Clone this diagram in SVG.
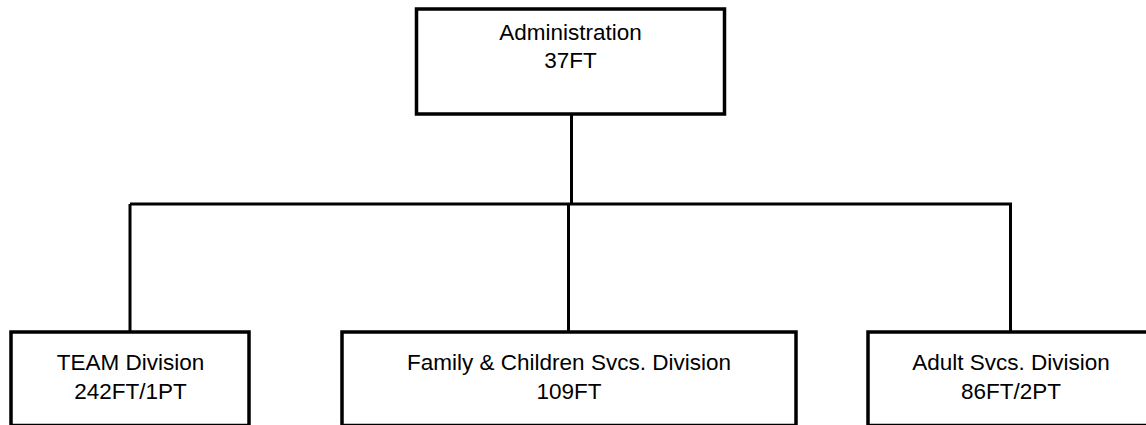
<svg xmlns="http://www.w3.org/2000/svg" width="1146" height="425" viewBox="0 0 1146 425">
<style>
.box{fill:#fff;stroke:#000;stroke-width:3.5}
.con{fill:none;stroke:#000;stroke-width:3}
.t{font-family:"Liberation Sans",Arial,sans-serif;font-size:22.5px;fill:#000;text-anchor:middle}
</style>
<rect width="1146" height="425" fill="#fff"/>
<g id="connectors">
<path class="con" d="M571.5 114V204"/>
<path class="con" d="M130 204H1010.5V332"/>
<path class="con" d="M130 204V332"/>
<path class="con" d="M568.5 204V332"/>
</g>
<g id="admin">
<rect class="box" x="416.5" y="9" width="308" height="105"/>
<text class="t" x="570.5" y="40">Administration</text>
<text class="t" x="570.5" y="68">37FT</text>
</g>
<g id="team">
<rect class="box" x="11" y="332" width="238" height="93.5"/>
<text class="t" x="130.5" y="370">TEAM Division</text>
<text class="t" x="130.5" y="399">242FT/1PT</text>
</g>
<g id="family">
<rect class="box" x="342" y="332" width="454" height="93.5"/>
<text class="t" x="569" y="370">Family &amp; Children Svcs. Division</text>
<text class="t" x="569" y="399">109FT</text>
</g>
<g id="adult">
<rect class="box" x="868" y="332" width="286" height="93.5"/>
<text class="t" x="1011" y="370">Adult Svcs. Division</text>
<text class="t" x="1011" y="399">86FT/2PT</text>
</g>
</svg>
